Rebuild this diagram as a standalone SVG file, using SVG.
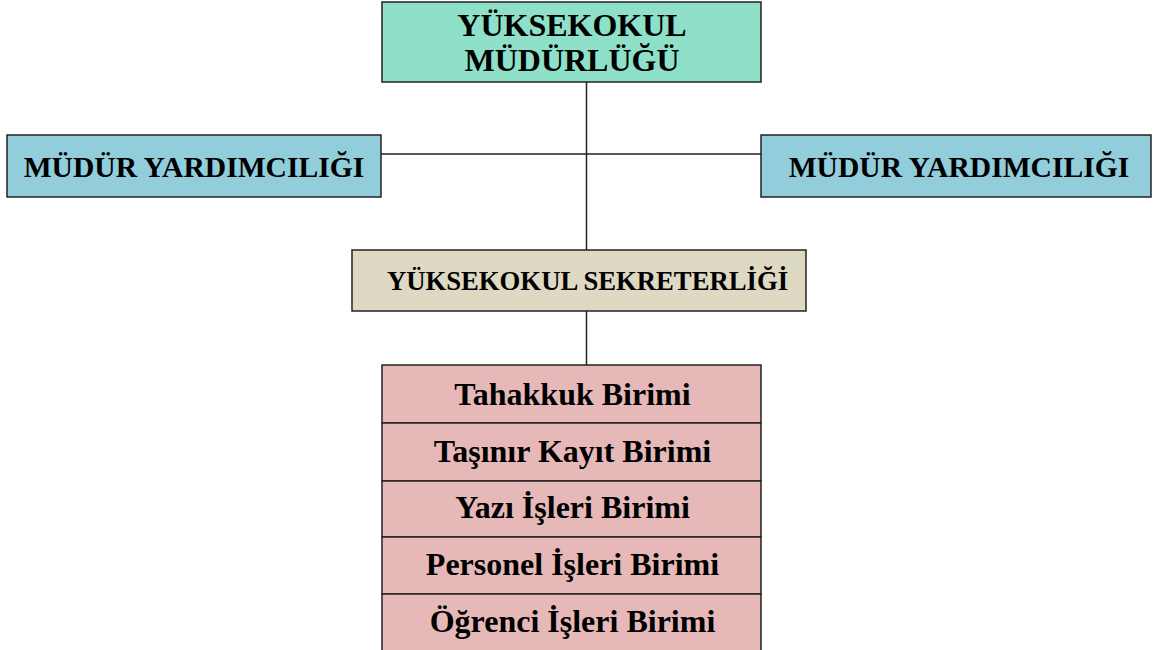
<svg xmlns="http://www.w3.org/2000/svg" width="1154" height="650" viewBox="0 0 1154 650">
<style>
.box{stroke:#222;stroke-width:1.5}
.t{font-family:"Liberation Serif","Times New Roman",serif;font-weight:bold;fill:#000;text-anchor:middle}
.conn{stroke:#222;stroke-width:1.5;fill:none}
.unit{font-size:32px}
</style>
<rect width="1154" height="650" fill="#fff"/>
<g id="connectors">
<line class="conn" x1="586.5" y1="82" x2="586.5" y2="250"/>
<line class="conn" x1="381" y1="154" x2="761" y2="154"/>
<line class="conn" x1="586.5" y1="311" x2="586.5" y2="365"/>
</g>
<g id="mudurluk">
<rect class="box" x="382" y="2" width="379" height="80" fill="#8EE0C8"/>
<text class="t" x="572" y="36" font-size="32">YÜKSEKOKUL</text>
<text class="t" x="572" y="71" font-size="32">MÜDÜRLÜĞÜ</text>
</g>
<g id="yardimci-sol">
<rect class="box" x="7" y="135" width="374" height="62" fill="#92CDDC"/>
<text class="t" x="194" y="177" font-size="29.6">MÜDÜR YARDIMCILIĞI</text>
</g>
<g id="yardimci-sag">
<rect class="box" x="761" y="135" width="390" height="62" fill="#92CDDC"/>
<text class="t" x="959" y="177" font-size="29.6">MÜDÜR YARDIMCILIĞI</text>
</g>
<g id="sekreterlik">
<rect class="box" x="352" y="250" width="454" height="61" fill="#DDD9C3"/>
<text class="t" x="587.5" y="290" font-size="26.7">YÜKSEKOKUL SEKRETERLİĞİ</text>
</g>
<g id="tahakkuk">
<rect class="box" x="382" y="365" width="379" height="58" fill="#E6B9B8"/>
<text class="t unit" x="572.5" y="405">Tahakkuk Birimi</text>
</g>
<g id="tasinir">
<rect class="box" x="382" y="423" width="379" height="58" fill="#E6B9B8"/>
<text class="t unit" x="572.5" y="462">Taşınır Kayıt Birimi</text>
</g>
<g id="yazi">
<rect class="box" x="382" y="481" width="379" height="56" fill="#E6B9B8"/>
<text class="t unit" x="572.5" y="518">Yazı İşleri Birimi</text>
</g>
<g id="personel">
<rect class="box" x="382" y="537" width="379" height="57" fill="#E6B9B8"/>
<text class="t unit" x="572.5" y="575">Personel İşleri Birimi</text>
</g>
<g id="ogrenci">
<rect class="box" x="382" y="594" width="379" height="60" fill="#E6B9B8"/>
<text class="t unit" x="572.5" y="632">Öğrenci İşleri Birimi</text>
</g>
</svg>
